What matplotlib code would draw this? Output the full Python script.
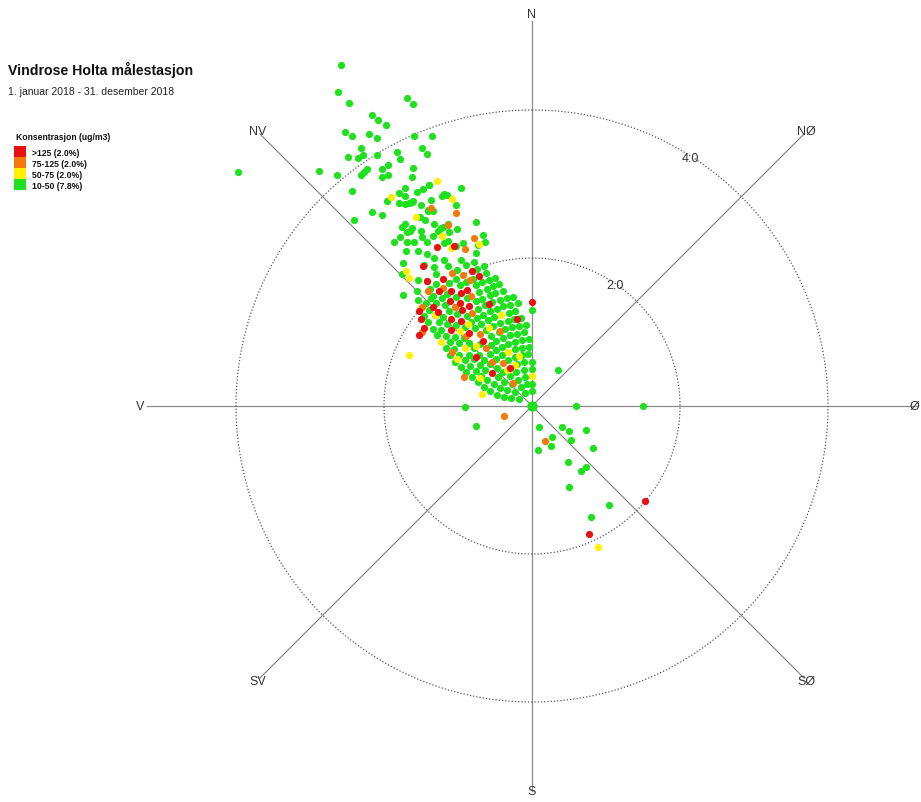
import numpy as np
import matplotlib
matplotlib.use("Agg")
import matplotlib.pyplot as plt
from matplotlib.patches import Rectangle

plt.rcParams['font.family'] = ['Liberation Sans', 'DejaVu Sans']

# ---------------- texts ----------------
title = "Vindrose Holta målestasjon"
subtitle = "1. januar 2018 - 31. desember 2018"
legend_title = "Konsentrasjon (ug/m3)"
class_labels = [">125 (2.0%)", "75-125 (2.0%)", "50-75 (2.0%)", "10-50 (7.8%)"]
class_colors = ["#E81010", "#F27A0C", "#FFF000", "#1EE11E"]
compass_labels = ["N", "NØ", "Ø", "SØ", "S", "SV", "V", "NV"]
compass_dirs = [0, 45, 90, 135, 180, 225, 270, 315]
ring_values = [2.0, 4.0]
ring_labels = ["2.0", "4.0"]

# ---------------- data: wind direction (deg) / wind speed (m/s) ----------------
# green class 10-50: dense arcs (one list of directions per speed level)
green_arc_speeds = [0.2, 0.3, 0.4, 0.5, 0.6, 0.7, 0.8, 0.9, 1.0, 1.1, 1.2, 1.3,
                    1.4, 1.5, 1.6, 1.7, 1.8, 1.9, 2.0, 2.1, 2.2, 2.3, 2.4, 2.5, 2.6]
green_arc_dirs = [
    [300, 330, 0],
    [290, 310, 330, 348, 0],
    [288, 303, 318, 332, 346],
    [287, 299, 311, 323, 335, 347, 0],
    [290, 300, 310, 320, 340, 350, 0],
    [292, 300, 317, 333, 341, 349, 356],
    [294, 301, 308, 315, 322, 329, 343, 350, 357],
    [296, 302, 308, 314, 321, 327, 333, 339, 345, 351, 357],
    [297, 303, 309, 314, 326, 331, 337, 343, 348, 354],
    [299, 304, 309, 315, 320, 330, 336, 341, 346, 351, 356],
    [300, 305, 315, 329, 334, 339, 344, 348, 353],
    [302, 306, 311, 315, 324, 328, 333, 337, 346, 350, 0],
    [304, 308, 312, 320, 324, 328, 332, 336, 340, 344, 348, 352],
    [309, 317, 324, 331, 335, 339, 343, 347, 350],
    [307, 310, 314, 321, 332, 335, 339, 342, 346],
    [308, 312, 315, 319, 329, 335, 339, 342, 345],
    [309, 313, 319, 325, 335, 338, 341, 344],
    [310, 313, 317, 320, 323, 329, 332, 335, 341],
    [314, 317, 326, 329, 338, 341],
    [313, 319, 322, 331, 335, 338],
    [315, 320, 324, 329, 334, 340],
    [310.5, 318, 325, 329, 341.6, 344],
    [322.5, 326.6, 334.5, 337, 344],
    [315.4, 325.4, 331.7, 333],
    [318, 323.7, 334.5, 337, 343],
]

# green class 10-50: scattered points
green_extra_dir = [330.7, 328.3, 328.9, 337.9, 338.5, 331.2, 331.7, 332.5, 325.7, 326.3,
                   329.1, 330.0, 336.4, 339.7, 326.5, 323.5, 324.9, 326.1, 328.3, 332.0,
                   331.9, 336.9, 337.4, 308.5, 317.8, 319.8, 323.5, 324.3, 325.2, 327.7,
                   329.1, 326.8, 328.1, 333.4, 320.1, 320.5, 321.9, 316.3, 324.7, 328.0,
                   329.8, 332.4, 331.7, 333.3, 335.0, 336.8, 338.1, 328.8, 326.8, 327.8,
                   328.8, 329.9, 329.3, 331.9, 333.1, 324.0, 324.3, 325.1, 319.9, 322.0,
                   322.7, 324.3, 326.9, 327.4, 329.8, 331.8, 333.6, 335.2,
                   342.0, 332.0, 331.0, 329.5, 335.0, 337.5, 339.4, 334.0, 330.0, 331.7,
                   333.0, 325.0, 326.0, 327.6, 321.0, 318.0,
                   90, 90, 161.6, 125, 124, 114, 148, 131, 172.4, 155, 124.5, 147.7,
                   138.5, 143, 155.5, 142, 152, 35.5, 269, 250.3]
green_extra_speed = [5.28, 4.99, 4.78, 4.49, 4.39, 4.49, 4.39, 4.28, 4.48, 4.39,
                     4.29, 4.18, 3.98, 3.89, 4.18, 4.18, 4.09, 4.09, 3.99, 3.89,
                     3.78, 3.79, 3.69, 5.08, 4.29, 4.09, 3.88, 3.89, 3.90, 3.79,
                     3.79, 3.70, 3.68, 3.60, 3.79, 3.40, 3.28, 3.48, 3.39, 3.39,
                     3.41, 3.49, 3.28, 3.28, 3.29, 3.09, 3.07, 3.32, 3.28, 3.22,
                     3.21, 3.20, 2.97, 2.99, 2.96, 2.99, 2.90, 2.88, 2.90, 2.90,
                     2.79, 2.73, 2.72, 2.63, 2.66, 2.68, 2.70, 2.71,
                     3.10, 3.00, 3.10, 3.20, 3.30, 3.10, 2.90, 3.10, 2.90, 2.80,
                     2.70, 3.00, 2.90, 2.80, 2.70, 2.00,
                     0.6, 1.5, 0.3, 0.5, 0.6, 0.8, 0.5, 0.7, 0.6, 0.6, 1.0, 0.9,
                     1.1, 1.1, 1.2, 1.7, 1.7, 0.6, 0.9, 0.8]

# calm (centre)
calm_dir = [0]
calm_speed = [0.0]

# yellow class 50-75
yellow_dir = [337, 326, 339, 317, 316, 311, 313, 292.5, 305, 302, 298, 283.5, 336,
              345, 0, 322, 331, 341, 316, 311, 317, 337, 325, 328.5, 332, 342, 333, 155]
yellow_speed = [3.3, 3.4, 3.0, 2.5, 2.4, 2.0, 1.8, 1.8, 1.5, 1.2, 0.8, 0.7, 0.8,
                0.7, 0.4, 1.4, 1.2, 1.3, 1.4, 1.2, 1.1, 0.6, 0.6, 3.0, 2.6, 2.3, 2.4, 2.1]

# orange class 75-125
orange_dir = [333, 338.5, 335, 341, 337, 318, 323, 332, 334, 304, 304, 293, 250, 320,
              322, 324, 326, 322, 312, 160, 329, 331, 327, 318, 317, 337]
orange_speed = [3.0, 2.8, 2.7, 2.4, 2.3, 2.1, 2.0, 2.0, 1.9, 1.8, 1.3, 1.0, 0.4, 0.4,
                1.0, 1.2, 0.7, 1.7, 2.0, 0.5, 2.1, 1.7, 1.5, 0.8, 1.3, 1.1]

# red class >125
red_dir = [329, 334, 322, 320, 325, 336, 338, 310, 308, 306, 302, 315, 315, 322, 328,
           325, 321, 324, 328, 313, 320, 319, 337, 350, 0, 309, 330, 325, 311, 323,
           331, 317, 130, 156]
red_speed = [2.5, 2.4, 2.4, 2.2, 2.1, 2.0, 1.9, 2.0, 1.9, 1.8, 1.8, 1.9, 1.8, 1.8, 1.8,
             1.9, 2.0, 1.6, 1.6, 1.5, 1.5, 1.3, 1.5, 1.2, 1.4, 0.7, 0.6, 1.7, 1.0, 1.1,
             1.8, 1.6, 2.0, 1.9]

# ---------------- figure ----------------
W, H = 921, 803
fig = plt.figure(figsize=(W / 100, H / 100), dpi=100)
cx, cy = 532, 407
px_per_unit = 74.0
rmax = 5.2
rad_px = rmax * px_per_unit
ax = fig.add_axes([(cx - rad_px) / W, (H - cy - rad_px) / H, 2 * rad_px / W, 2 * rad_px / H],
                  projection='polar')
ax.set_theta_zero_location('N')
ax.set_theta_direction(-1)
ax.set_ylim(0, rmax)
ax.axis('off')

# spokes
for d in compass_dirs:
    t = np.deg2rad(d)
    ax.plot([t, t], [0, rmax], color='#8a8a8a', lw=0.9, zorder=1, clip_on=False)

# rings
tt = np.linspace(0, 2 * np.pi, 721)
for rv in ring_values:
    ax.plot(tt, np.full_like(tt, rv), color='#555555', lw=0.9,
            linestyle=(0, (1, 1.6)), zorder=1)

# ring labels
for rv, lab in zip(ring_values, ring_labels):
    ax.text(np.deg2rad(34.5 if rv == 2.0 else 32.5), rv - 0.02, lab, ha='center', va='center',
            fontsize=9, color='#333333', zorder=2)

# compass labels
label_r = {0: 5.3, 90: 5.17, 180: 5.2, 270: 5.3}
for d, lab in zip(compass_dirs, compass_labels):
    rr = label_r.get(d, 5.25)
    ax.text(np.deg2rad(d), rr, lab, ha='center', va='center', fontsize=9,
            color='#333333', clip_on=False)

# points
msize = 27
g_dirs = []
g_spd = []
for s, dl in zip(green_arc_speeds, green_arc_dirs):
    for d in dl:
        g_dirs.append(d)
        g_spd.append(s)
g_dirs += green_extra_dir
g_spd += green_extra_speed

ax.scatter(np.deg2rad(g_dirs), g_spd, s=msize, c=class_colors[3], linewidths=0, zorder=3, clip_on=False)
ax.scatter(np.deg2rad(calm_dir), calm_speed, s=55, c=class_colors[3], linewidths=0, zorder=3)
ax.scatter(np.deg2rad(yellow_dir), yellow_speed, s=msize, c=class_colors[2], linewidths=0, zorder=4, clip_on=False)
ax.scatter(np.deg2rad(orange_dir), orange_speed, s=msize, c=class_colors[1], linewidths=0, zorder=5, clip_on=False)
ax.scatter(np.deg2rad(red_dir), red_speed, s=msize, c=class_colors[0], linewidths=0, zorder=6, clip_on=False)

# ---------------- titles & legend ----------------
fig.text(8 / W, 1 - 70 / H, title, fontsize=10.2, fontweight='bold', ha='left', va='center', color='#111111')
fig.text(8 / W, 1 - 92 / H, subtitle, fontsize=7.5, ha='left', va='center', color='#222222')
fig.text(16 / W, 1 - 137 / H, legend_title, fontsize=6.2, fontweight='bold', ha='left', va='center', color='#111111')
sq_top = 147
sq_h = 11
for i, (lab, col) in enumerate(zip(class_labels, class_colors)):
    y0 = sq_top + i * sq_h
    fig.add_artist(Rectangle((14 / W, 1 - (y0 + sq_h) / H), 12 / W, sq_h / H,
                             transform=fig.transFigure, facecolor=col, edgecolor='none'))
    fig.text(32 / W, 1 - (y0 + sq_h / 2 + 1) / H, lab, fontsize=6.2, fontweight='bold',
             ha='left', va='center', color='#111111')

fig.savefig("out.png", dpi=100)
